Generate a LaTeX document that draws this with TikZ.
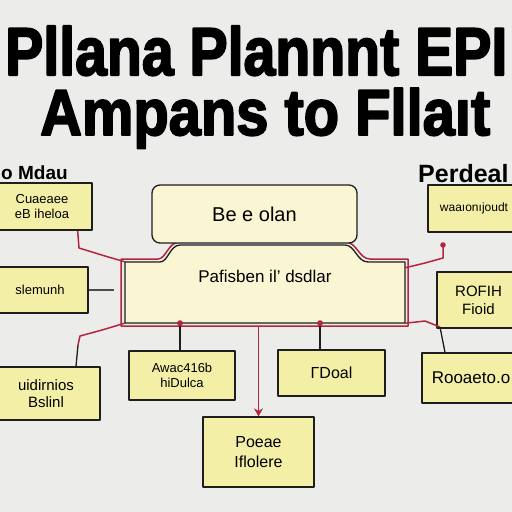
\documentclass[tikz,border=0pt]{standalone}
\usepackage{fontspec}
\setmainfont{Liberation Sans}
\newfontfamily\heavyfont{Liberation Sans}[BoldFeatures={FakeBold=3}]
\usetikzlibrary{arrows.meta}
\definecolor{paper}{HTML}{ECECEA}
\definecolor{note}{HTML}{F4EFA6}
\definecolor{pale}{HTML}{FAF5D3}
\definecolor{wirered}{HTML}{B3263F}
\definecolor{ink}{HTML}{1E1E1E}
\begin{document}
\begin{tikzpicture}[x=1pt,y=-1pt, line join=round,
  card/.style={draw=ink,line width=1.3pt,fill=note,align=center,inner sep=2pt,font=\fontsize{13}{15}\selectfont},
  wire/.style={draw=wirered,line width=1.5pt},
  lead/.style={draw=ink,line width=1.3pt}]
\useasboundingbox (0,0) rectangle (512,512);
\clip (0,0) rectangle (512,512);
\fill[paper] (0,0) rectangle (512,512);
\node[anchor=base west,inner sep=0] (title1) at (5,75) {\resizebox{502pt}{49pt}{\heavyfont\bfseries Pllana Plannnt EPI}};
\node[anchor=base west,inner sep=0] (title2) at (40,135) {\resizebox{450pt}{47pt}{\heavyfont\bfseries Ampans to Fllaıt}};
\node[anchor=base west,inner sep=0,font=\bfseries\fontsize{19}{22}\selectfont] (tlhead) at (1,179) {o Mdau};
\node[anchor=base west,inner sep=0,font=\bfseries\fontsize{25}{28}\selectfont] (trhead) at (418,182) {Perdeal};
\draw[wire] (121,259) -- (158,259) .. controls (166,259) and (168,242) .. (180,242) -- (345,242) .. controls (357,242) and (359,259) .. (370,259) -- (408,259) -- (408,326) -- (121,326) -- cycle;
\filldraw[fill=pale,draw=ink,line width=1.3pt] (125,262) -- (160,262) .. controls (168,262) and (170,245) .. (180,245) -- (345,245) .. controls (355,245) and (357,262) .. (368,262) -- (405,262) -- (405,323) -- (125,323) -- cycle;
\node[minimum width=280pt,minimum height=61pt,inner sep=0] (plan) at (265,292.5) {};
\node[font=\fontsize{17}{20}\selectfont] (plantext) at (265,276) {Pafisben il’ dsdlar};
\node[card,fill=pale,rounded corners=8pt,minimum width=205pt,minimum height=58pt,font=\fontsize{20}{24}\selectfont] (goal) at (254.5,214) {Be e olan};
\node[card,minimum width=100pt,minimum height=47pt] (tl) at (42,206.5) {Cuaeaee\\eB iheloa};
\node[card,minimum width=96pt,minimum height=46pt] (lt) at (40,290) {slemunh};
\node[card,minimum width=92pt,minimum height=47pt,font=\fontsize{12}{14}\selectfont] (tr) at (474,208.5) {waaıonıjoudt};
\node[card,minimum width=83pt,minimum height=56pt,font=\fontsize{15}{18}\selectfont] (rt) at (478.5,300) {ROFIH\\Fioid};
\node[card,minimum width=98pt,minimum height=50pt,font=\fontsize{17}{20}\selectfont] (br) at (471,378) {Rooaeto.o};
\node[card,minimum width=108pt,minimum height=53pt,font=\fontsize{15}{17}\selectfont] (bl) at (46,393.5) {uidirnios\\Bslinl};
\node[card,minimum width=106pt,minimum height=49pt] (bml) at (182,375.5) {Awac416b\\hiDulca};
\node[card,minimum width=107pt,minimum height=46pt,font=\fontsize{16}{18}\selectfont] (tdoal) at (331.5,373) {ΓDoal};
\node[card,minimum width=111pt,minimum height=70pt,font=\fontsize{16}{20}\selectfont] (pc) at (258.5,452) {Poeae\\Iflolere};
\coordinate (tip) at (443,245);
\draw[wire] ([xshift=-15pt]tl.south east) -- (79,248) -- (105,256) -- (plan.north west);
\draw[lead] ([xshift=30pt]bl.north) -- (78,345);
\draw[wire] (78,345) -- (80,336) -- (102,330) -- (plan.south west);
\draw[draw=gray!60!black,line width=1.6pt] (lt.east) -- ++(25,0);
\draw[wire] ([yshift=-6pt]plan.north east) -- (425,263) -- (443,258) -- (tip);
\fill[wirered] (tip) circle (2.8);
\draw[wire] (plan.south east) -- (425,321) -- (440,327);
\draw[lead] (440,327) -- ([xshift=-26pt]br.north);
\draw[lead] ([xshift=55pt]plan.south) -- ([xshift=-11.5pt]tdoal.north);
\fill[wirered] ([xshift=55pt]plan.south) circle (3);
\draw[lead] ([xshift=-85pt]plan.south) -- ([xshift=-2pt]bml.north);
\fill[wirered] ([xshift=-85pt]plan.south) circle (3);
\draw[wire,-{Stealth[length=8pt,width=9pt]}] ([xshift=-6.5pt,yshift=-4pt]plan.south) -- (pc.north);
\end{tikzpicture}
\end{document}
